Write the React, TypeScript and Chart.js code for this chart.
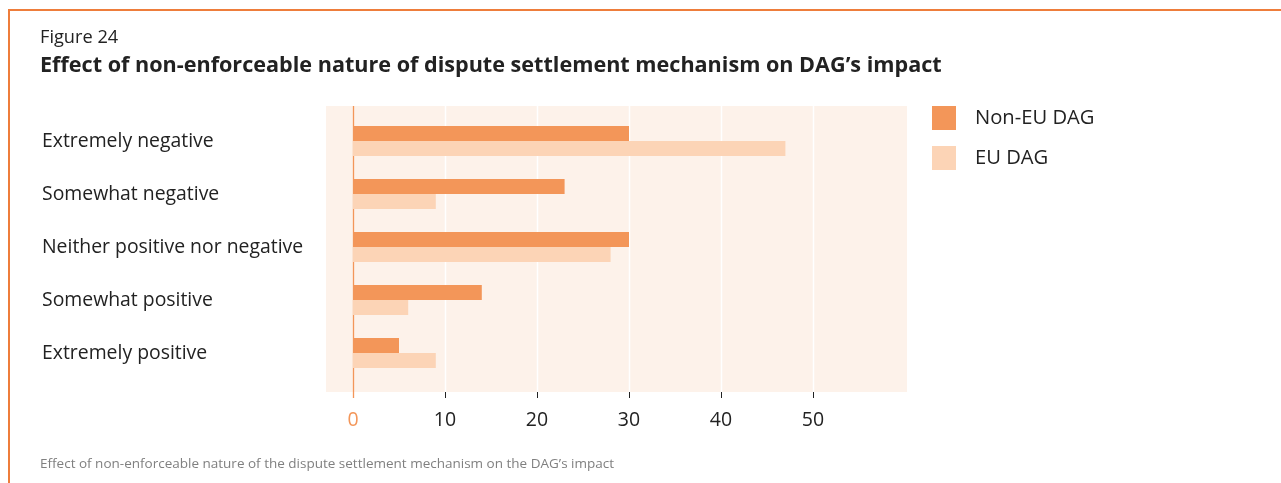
import React, { useEffect, useRef } from "react";
import { Chart, registerables } from "chart.js";

Chart.register(...registerables);

const categories = [
  "Extremely negative",
  "Somewhat negative",
  "Neither positive nor negative",
  "Somewhat positive",
  "Extremely positive",
];
const nonEuValues = [30, 23, 30, 14, 5];
const euValues = [47, 9, 28, 6, 9];
const xTicks = [0, 10, 20, 30, 40, 50];
const seriesNames = ["Non-EU DAG", "EU DAG"];
const figureLabel = "Figure 24";
const titleText = "Effect of non-enforceable nature of dispute settlement mechanism on DAG’s impact";
const footnoteText =
  "Effect of non-enforceable nature of the dispute settlement mechanism on the DAG’s impact";

const FONT = "'Open Sans', Lato, sans-serif";
const DARK = "#F39659";
const LIGHT = "#FCD4B6";
const BG = "#FDF2EA";
const BORDER = "#EE7D3B";
const TEXT = "#222222";

const bgPlugin = {
  id: "bgPlugin",
  beforeDraw(chart: any) {
    const { ctx, chartArea, scales } = chart;
    const x = scales.x;
    const zero = x.getPixelForValue(0);
    const top = chartArea.top - 8.5;
    const bottom = chartArea.bottom + 12.5;
    const left = zero - 27;
    const right = chartArea.right + 2;
    ctx.save();
    ctx.fillStyle = BG;
    ctx.fillRect(left, top, right - left, bottom - top);
    ctx.strokeStyle = "#ffffff";
    ctx.lineWidth = 1.5;
    for (const v of xTicks) {
      if (v === 0) continue;
      const px = Math.round(x.getPixelForValue(v)) + 0.5;
      ctx.beginPath();
      ctx.moveTo(px, top);
      ctx.lineTo(px, bottom);
      ctx.stroke();
    }
    ctx.strokeStyle = TEXT;
    ctx.lineWidth = 1;
    for (const v of xTicks) {
      if (v === 0) continue;
      const px = Math.round(x.getPixelForValue(v)) + 0.5;
      ctx.beginPath();
      ctx.moveTo(px, bottom);
      ctx.lineTo(px, bottom + 6);
      ctx.stroke();
    }
    ctx.strokeStyle = DARK;
    ctx.lineWidth = 1.3;
    const zx = Math.round(zero) + 0.5;
    ctx.beginPath();
    ctx.moveTo(zx, top);
    ctx.lineTo(zx, bottom + 6);
    ctx.stroke();
    ctx.restore();
  },
};

function ChartCanvas() {
  const ref = useRef<HTMLCanvasElement | null>(null);
  useEffect(() => {
    if (!ref.current) return;
    const chart = new Chart(ref.current, {
      type: "bar",
      data: {
        labels: categories,
        datasets: [
          {
            label: seriesNames[0],
            data: nonEuValues,
            backgroundColor: DARK,
            borderWidth: 0,
            categoryPercentage: 0.57,
            barPercentage: 1,
          },
          {
            label: seriesNames[1],
            data: euValues,
            backgroundColor: LIGHT,
            borderWidth: 0,
            categoryPercentage: 0.57,
            barPercentage: 1,
          },
        ],
      },
      options: {
        indexAxis: "y",
        responsive: false,
        animation: false,
        devicePixelRatio: 1,
        layout: { padding: { left: 42, right: 376, top: 114.5, bottom: 53.5 } },
        plugins: {
          legend: { display: false },
          tooltip: { enabled: false },
        },
        scales: {
          x: {
            min: 0,
            max: 60,
            grid: { display: false },
            border: { display: false },
            ticks: {
              stepSize: 10,
              padding: 21,
              font: { family: FONT, size: 19.5 },
              color: (c: any) => (c.tick && c.tick.value === 0 ? DARK : TEXT),
              callback: (v: any) => (xTicks.includes(Number(v)) ? String(v) : ""),
            },
            afterFit: (s: any) => {
              s.height = 50;
            },
          },
          y: {
            grid: { display: false },
            border: { display: false },
            ticks: {
              crossAlign: "far",
              padding: 0,
              font: { family: FONT, size: 19.4 },
              color: TEXT,
            },
            afterFit: (s: any) => {
              s.width = 311;
            },
          },
        },
      },
      plugins: [bgPlugin],
    });
    return () => chart.destroy();
  }, []);
  return (
    <canvas
      ref={ref}
      width={1281}
      height={483}
      style={{ position: "absolute", left: 0, top: 0, width: 1281, height: 483 }}
    />
  );
}

export default function App() {
  const abs: React.CSSProperties = { position: "absolute", whiteSpace: "nowrap", lineHeight: 1 };
  return (
    <div
      style={{
        position: "absolute",
        left: 0,
        top: 0,
        width: 1281,
        height: 483,
        overflow: "hidden",
        background: "#fff",
        fontFamily: FONT,
        color: TEXT,
      }}
    >
      <div
        style={{
          position: "absolute",
          left: 8,
          top: 9,
          width: 1300,
          height: 500,
          borderTop: `2px solid ${BORDER}`,
          borderLeft: `2px solid ${BORDER}`,
        }}
      />
      <ChartCanvas />
      <div style={{ ...abs, left: 40, top: 27, fontSize: 18.2 }}>{figureLabel}</div>
      <div style={{ ...abs, left: 40, top: 53, fontSize: 21.6, fontWeight: 700 }}>{titleText}</div>
      <div style={{ ...abs, left: 932, top: 106, width: 24, height: 24, background: DARK }} />
      <div style={{ ...abs, left: 975, top: 106, fontSize: 20.2 }}>{seriesNames[0]}</div>
      <div style={{ ...abs, left: 932, top: 146, width: 24, height: 24, background: LIGHT }} />
      <div style={{ ...abs, left: 975, top: 146, fontSize: 20.2 }}>{seriesNames[1]}</div>
      <div style={{ ...abs, left: 40, top: 457, fontSize: 13.5, color: "#808080" }}>{footnoteText}</div>
    </div>
  );
}
